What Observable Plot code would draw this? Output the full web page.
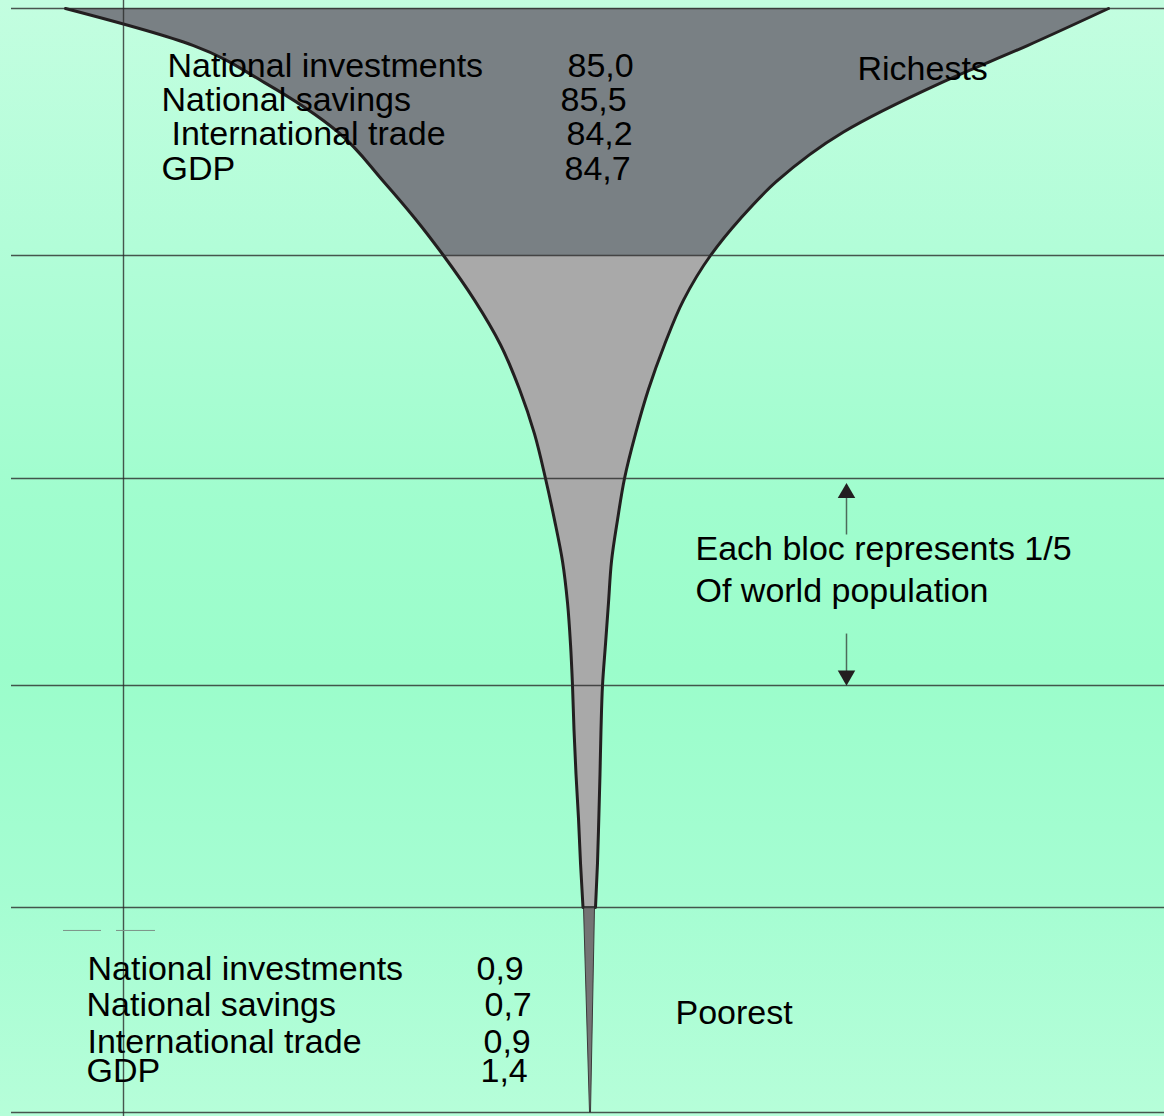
<!DOCTYPE html>
<html>
<head>
<meta charset="utf-8">
<script src="https://cdn.jsdelivr.net/npm/d3@7"></script>
<script src="https://cdn.jsdelivr.net/npm/@observablehq/plot@0.6"></script>
<style>
  html, body { margin: 0; padding: 0; background: #b4fed8; }
  #chart svg { display: block; }
</style>
</head>
<body>
<div id="chart"></div>
<script>
// ---------------- DATA ----------------
// Population blocs, each one fifth of world population (percentile of population)
const blocs = ["Richest fifth", "Second fifth", "Third fifth", "Fourth fifth", "Poorest fifth"];
const blocBounds = [100, 80, 60, 40, 20, 0];

// Glass profile: population percentile and left/right edge of the glass
const richestPct   = [100, 97, 94, 90, 86, 83, 80];
const richestLeft  = [-52.2, -39.4, -32.3, -24.95, -20.4, -17.25, -14.4];
const richestRight = [52.1, 44.0, 35.4, 25.6, 18.9, 15.3, 12.3];

const secondPct    = [80, 76, 72, 68, 64, 60];
const secondLeft   = [-14.4, -11.3, -8.7, -6.8, -5.3, -4.2];
const secondRight  = [12.3, 9.6, 7.7, 6.1, 4.8, 3.7];

const thirdPct     = [60, 56, 52, 48, 44, 40];
const thirdLeft    = [-4.2, -3.3, -2.5, -2.0, -1.7, -1.5];
const thirdRight   = [3.7, 3.0, 2.4, 2.1, 1.8, 1.5];

const fourthPct    = [40, 36, 32, 28, 24, 20];
const fourthLeft   = [-1.5, -1.35, -1.15, -0.9, -0.7, -0.45];
const fourthRight  = [1.5, 1.35, 1.25, 1.13, 1.0, 0.8];

const poorestPct   = [20, 0];
const poorestLeft  = [-0.35, 0.25];
const poorestRight = [0.75, 0.35];

// Shares (%) of world totals
const indicators     = ["National investments", "National savings", "International trade", "GDP"];
const richestShares  = [85.0, 85.5, 84.2, 84.7];
const poorestShares  = [0.9, 0.7, 0.9, 1.4];
const groupLabels    = ["Richests", "Poorest"];
const noteLines      = ["Each bloc represents 1/5", "Of world population"];

// ---------------- LAYOUT (positions, not data) ----------------
const topRowY       = [94.49, 91.74, 88.91, 86.15];
const topLabelX     = [-42.0, -42.6, -41.6, -42.6];
const topValueX     = [-2.0, -2.7, -2.1, -2.3];
const bottomRowY    = [12.88, 9.46, 5.85, 2.93];
const bottomLabelX  = [-50.0, -50.1, -50.0, -50.1];
const bottomValueX  = [-11.1, -10.3, -10.4, -10.7];
const groupLabelPos = [{x: 27.0, y: 94.25}, {x: 8.8, y: 8.59}];
const notePos       = [{x: 10.8, y: 52.08}, {x: 10.8, y: 48.02}];
const arrowX        = 25.9;
const arrowShafts   = [{y1: 54.59, y2: 58.6}, {y1: 45.02, y2: 40.95}];
const arrowHeads    = [{y: 58.6, rot: 0}, {y: 40.95, rot: 180}];
const verticalRule  = [-46.4];
const dashes        = [{x1: -52.4, x2: -48.6, y: 17.76}, {x1: -47.1, x2: -43.2, y: 17.76}];

// ---------------- BUILD TABLES ----------------
const profiles = [
  [richestPct, richestLeft, richestRight],
  [secondPct, secondLeft, secondRight],
  [thirdPct, thirdLeft, thirdRight],
  [fourthPct, fourthLeft, fourthRight],
  [poorestPct, poorestLeft, poorestRight]
];
const glass = [];
profiles.forEach(([p, l, r], i) => {
  p.forEach((v, j) => glass.push({bloc: blocs[i], pct: v, left: l[j], right: r[j]}));
});
const bowl = glass.filter(d => d.bloc !== "Poorest fifth");
const outline = bowl.filter((d, i, a) => i === 0 || a[i - 1].pct !== d.pct);
const stem = glass.filter(d => d.bloc === "Poorest fifth");

const fmt = v => v.toFixed(1).replace(".", ",");
const texts = [];
indicators.forEach((name, i) => {
  texts.push({x: topLabelX[i], y: topRowY[i], t: name});
  texts.push({x: topValueX[i], y: topRowY[i], t: fmt(richestShares[i])});
  texts.push({x: bottomLabelX[i], y: bottomRowY[i], t: name});
  texts.push({x: bottomValueX[i], y: bottomRowY[i], t: fmt(poorestShares[i])});
});
groupLabels.forEach((g, i) => texts.push({x: groupLabelPos[i].x, y: groupLabelPos[i].y, t: g}));
noteLines.forEach((g, i) => texts.push({x: notePos[i].x, y: notePos[i].y, t: g}));

const blocFill = {
  "Richest fifth": "#798084",
  "Second fifth": "#a9a9a9",
  "Third fifth": "#a9a9a9",
  "Fourth fifth": "#a9a9a9"
};

const font = "'Liberation Sans', Arial, Helvetica, sans-serif";

const chart = Plot.plot({
  width: 1164,
  height: 1116,
  marginLeft: 11,
  marginRight: 0,
  marginTop: 0,
  marginBottom: 0,
  x: {domain: [-57.6, 57.7], axis: null},
  y: {type: "linear", domain: [0, 20, 40, 60, 80, 100], range: [1112, 907, 685, 478, 255, 8], axis: null},
  style: {
    background: "linear-gradient(180deg, #c3fee0 0%, #b2fdd8 22%, #a0fdce 45%, #9bfdcb 60%, #a5fdd2 80%, #b6fed9 100%)",
    fontFamily: font
  },
  marks: [
    ...blocs.slice(0, 4).map(b =>
      Plot.areaX(bowl.filter(d => d.bloc === b), {
        x1: "left", x2: "right", y: "pct",
        fill: blocFill[b], curve: "monotone-y"
      })
    ),
    Plot.areaX(stem, {x1: "left", x2: "right", y: "pct", fill: "#747474", stroke: "#3a3a3a", strokeWidth: 1}),
    Plot.line(outline, {x: "left", y: "pct", curve: "monotone-y", stroke: "#231f20", strokeWidth: 3}),
    Plot.line(outline, {x: "right", y: "pct", curve: "monotone-y", stroke: "#231f20", strokeWidth: 3}),
    Plot.ruleY(blocBounds, {stroke: "#2b2b2b", strokeOpacity: 0.8, strokeWidth: 1.4}),
    Plot.ruleX(verticalRule, {stroke: "#2b2b2b", strokeOpacity: 0.8, strokeWidth: 1.4}),
    Plot.ruleY(dashes, {x1: "x1", x2: "x2", y: "y", stroke: "#7d9388", strokeWidth: 1}),
    Plot.link(arrowShafts, {x1: arrowX, x2: arrowX, y1: "y1", y2: "y2", stroke: "#4d6b5b", strokeWidth: 1.5}),
    Plot.dot(arrowHeads, {x: arrowX, y: "y", rotate: "rot", symbol: "triangle", r: 6.5, fill: "#231f20", stroke: "none"}),
    Plot.text(texts, {
      x: "x", y: "y", text: "t",
      textAnchor: "start", lineAnchor: "bottom",
      fontSize: 34, fontFamily: font, fill: "#000"
    })
  ]
});
document.getElementById("chart").append(chart);
</script>
</body>
</html>
